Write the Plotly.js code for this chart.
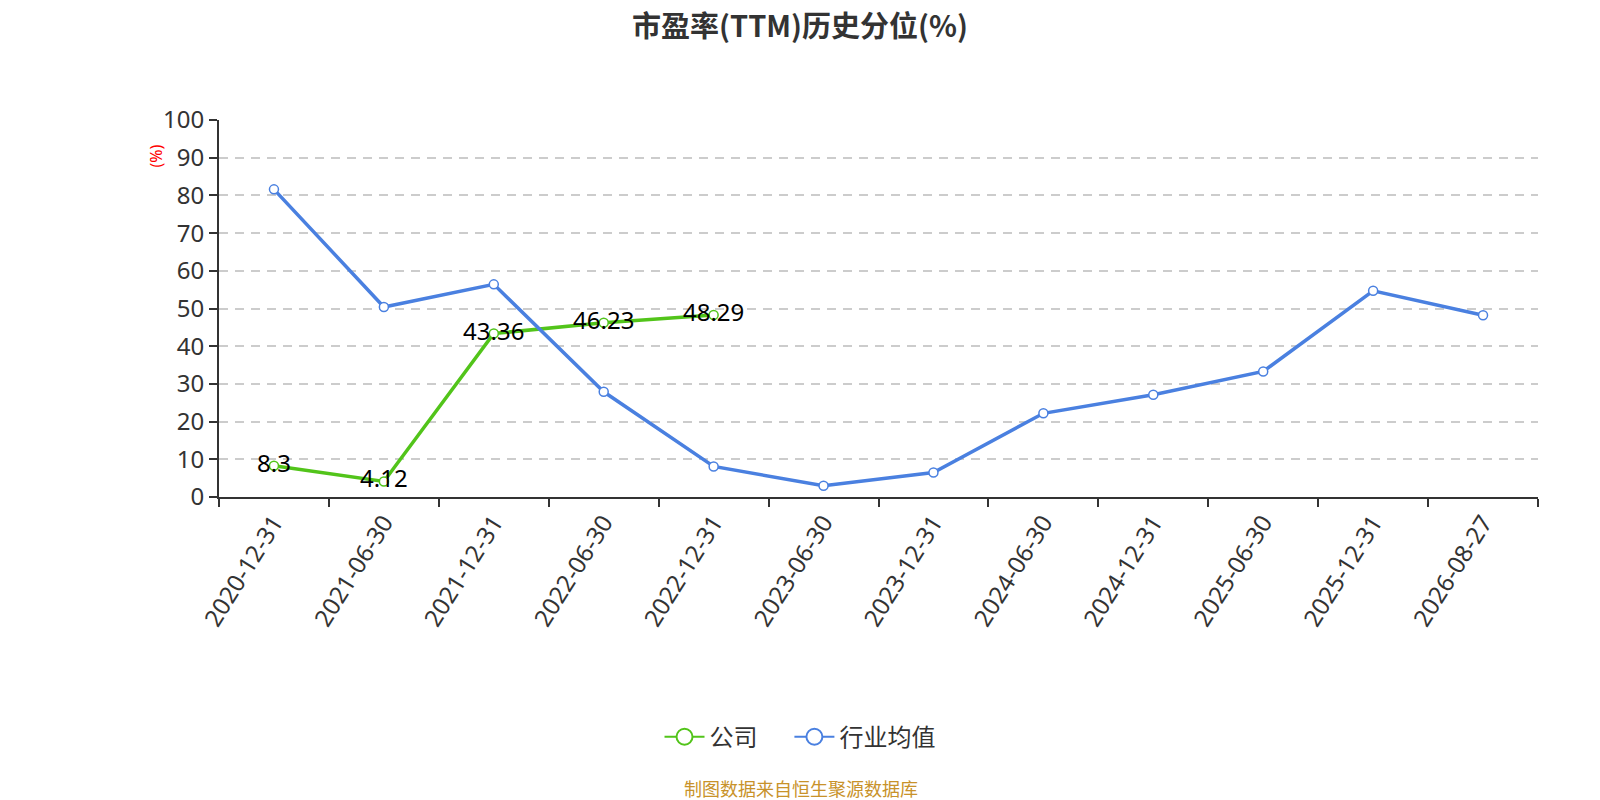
<!DOCTYPE html>
<html>
<head>
<meta charset="utf-8">
<script src="https://cdn.plot.ly/plotly-3.0.1.min.js"></script>
<style>
    html, body { margin: 0; padding: 0; background: #fff; }
    #chart { width: 1600px; height: 800px; }
</style>
</head>
<body>
<div id="chart"></div>
<script>
    // categories and series
    const periods = ['2020-12-31', '2021-06-30', '2021-12-31', '2022-06-30', '2022-12-31', '2023-06-30',
        '2023-12-31', '2024-06-30', '2024-12-31', '2025-06-30', '2025-12-31', '2026-08-27'];
    const companyPct = [8.3, 4.12, 43.36, 46.23, 48.29, null, null, null, null, null, null, null];
    const industryPct = [81.6, 50.4, 56.4, 27.9, 8.1, 3.0, 6.5, 22.2, 27.1, 33.3, 54.7, 48.2];

    const fontFamily = '"Noto Sans", "Noto Sans CJK SC", sans-serif';
    const cjkFamily = '"Noto Sans CJK SC", "Noto Sans", sans-serif';

    const colors = {
        green: '#52c41a',
        blue: '#4a80e0',
        axis: '#333333',
        grid: '#cccccc',
        text: '#333333'
    };

    const company = {
        name: '公司',
        x: periods,
        y: companyPct,
        type: 'scatter',
        mode: 'lines+markers+text',
        text: companyPct.map(v => v === null ? '' : String(v)),
        textposition: 'middle center',
        textfont: { size: 24, color: '#000', family: fontFamily },
        line: { color: colors.green, width: 3.5 },
        marker: { symbol: 'circle', size: 9, color: '#fff', line: { color: colors.green, width: 1.5 } },
        connectgaps: false,
        showlegend: false,
        hoverinfo: 'skip'
    };

    const industry = {
        name: '行业均值',
        x: periods,
        y: industryPct,
        type: 'scatter',
        mode: 'lines+markers',
        line: { color: colors.blue, width: 3.5 },
        marker: { symbol: 'circle', size: 9, color: '#fff', line: { color: colors.blue, width: 1.5 } },
        showlegend: false,
        hoverinfo: 'skip'
    };

    // legend-only copies so the legend symbols come out larger than the data markers
    function legendEntry(name, color) {
        return {
            name: name,
            x: [periods[0]],
            y: [null],
            type: 'scatter',
            mode: 'lines+markers',
            line: { color: color, width: 2 },
            marker: { symbol: 'circle', size: 22, color: '#fff', line: { color: color, width: 2 } },
            hoverinfo: 'skip'
        };
    }

    const layout = {
        width: 1600,
        height: 800,
        paper_bgcolor: '#fff',
        plot_bgcolor: '#fff',
        margin: { l: 219, r: 62, t: 120, b: 303 },
        font: { family: cjkFamily, color: colors.text },
        title: {
            text: '<b>市盈率(TTM)历史分位(%)</b>',
            x: 0.5,
            xanchor: 'center',
            y: 0.966,
            yanchor: 'middle',
            font: { size: 29, color: colors.text, family: cjkFamily }
        },
        xaxis: {
            type: 'category',
            tickson: 'boundaries',
            ticks: 'outside',
            ticklen: 8,
            tickcolor: colors.axis,
            tickwidth: 2,
            showline: true,
            linecolor: colors.axis,
            linewidth: 2,
            showgrid: false,
            tickangle: -58,
            tickfont: { size: 24, color: colors.text, family: fontFamily },
            range: [-0.5, 11.5],
            fixedrange: true
        },
        yaxis: {
            range: [0, 100],
            dtick: 10,
            ticks: 'outside',
            ticklen: 8,
            tickcolor: colors.axis,
            tickwidth: 2,
            showline: true,
            linecolor: colors.axis,
            linewidth: 2,
            showgrid: true,
            gridcolor: colors.grid,
            griddash: '9px,7px',
            gridwidth: 2,
            zeroline: false,
            tickfont: { size: 24, color: colors.text, family: fontFamily },
            fixedrange: true
        },
        showlegend: true,
        legend: {
            orientation: 'h',
            x: 0.4405,
            xanchor: 'center',
            y: -0.637,
            yanchor: 'middle',
            font: { size: 24, color: colors.text, family: cjkFamily },
            itemwidth: 40
        },
        annotations: [
            {
                text: '(%)',
                xref: 'paper', yref: 'paper',
                x: -0.048, y: 0.905,
                xanchor: 'center', yanchor: 'middle',
                textangle: -90,
                showarrow: false,
                font: { size: 16, color: '#ff0000', family: fontFamily }
            },
            {
                text: '制图数据来自恒生聚源数据库',
                xref: 'paper', yref: 'paper',
                x: 0.441, y: -0.772,
                xanchor: 'center', yanchor: 'middle',
                showarrow: false,
                font: { size: 18, color: '#c8922a', family: cjkFamily }
            }
        ]
    };

    // trailing no-break spaces widen the gap between the two legend entries
    const traces = [
        company,
        industry,
        legendEntry('公司\u00a0\u00a0\u00a0\u00a0\u00a0', colors.green),
        legendEntry('行业均值', colors.blue)
    ];
    Plotly.newPlot('chart', traces, layout, { responsive: false, displayModeBar: false, staticPlot: true });
</script>
</body>
</html>
